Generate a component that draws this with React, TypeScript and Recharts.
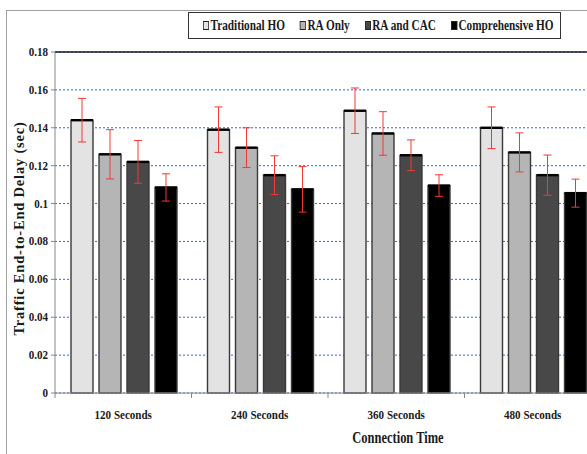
import { BarChart, Bar, XAxis, YAxis, CartesianGrid, ErrorBar, ReferenceLine, Label } from 'recharts';

// connection time groups
const categories = ['120 Seconds', '240 Seconds', '360 Seconds', '480 Seconds'];

// mean end-to-end delay (sec) per scheme
const traditional = [0.144, 0.139, 0.149, 0.14];
const raOnly = [0.126, 0.1295, 0.137, 0.127];
const raCac = [0.122, 0.115, 0.1255, 0.115];
const comprehensive = [0.1085, 0.1075, 0.1095, 0.1055];

// +/- spread drawn as error bars
const traditionalErr = [0.0115, 0.012, 0.012, 0.011];
const raOnlyErr = [0.013, 0.0105, 0.0115, 0.0103];
const raCacErr = [0.0113, 0.0102, 0.0081, 0.0106];
const comprehensiveErr = [0.0072, 0.012, 0.0057, 0.0074];

const yTicks = [0, 0.02, 0.04, 0.06, 0.08, 0.1, 0.12, 0.14, 0.16, 0.18];

const series = [
  { key: 'traditional', name: 'Traditional HO', color: '#e3e3e3' },
  { key: 'raOnly', name: 'RA Only', color: '#b5b5b5' },
  { key: 'raCac', name: 'RA and CAC', color: '#484848' },
  { key: 'comprehensive', name: 'Comprehensive HO', color: '#000000' },
];

const data = categories.map((category, i) => ({
  category,
  traditional: traditional[i],
  traditionalErr: traditionalErr[i],
  raOnly: raOnly[i],
  raOnlyErr: raOnlyErr[i],
  raCac: raCac[i],
  raCacErr: raCacErr[i],
  comprehensive: comprehensive[i],
  comprehensiveErr: comprehensiveErr[i],
}));

const SERIF = '"Liberation Serif", "Times New Roman", serif';

// bar with a dark outline and a heavier top edge
function OutlinedBar(props: any) {
  const { x, y, width, height, fill } = props;
  if (!height) return null;
  return (
    <g>
      <rect x={x} y={y} width={width} height={height} fill={fill} stroke="#3a3a3a" strokeWidth={1.4} />
      <line x1={x} x2={x + width} y1={y} y2={y} stroke="#000" strokeWidth={2.4} />
    </g>
  );
}

function YTick({ x, y, payload }: any) {
  return (
    <text
      transform={`translate(${x},${y}) scale(0.85,1)`}
      textAnchor="end"
      dy={4}
      fontFamily={SERIF}
      fontWeight="bold"
      fontSize={13}
      fill="#1a1a1a"
    >
      {payload.value}
    </text>
  );
}

// category label centred in the band, tick mark on the band's left edge
function XTick({ x, y, payload }: any) {
  const half = payload.offset || 68;
  return (
    <g>
      <line x1={x - half} x2={x - half} y1={y} y2={y + 5} stroke="#888" />
      <text
        transform={`translate(${x},${y + 26}) scale(0.85,1)`}
        textAnchor="middle"
        fontFamily={SERIF}
        fontWeight="bold"
        fontSize={13}
        fill="#1a1a1a"
      >
        {payload.value}
      </text>
    </g>
  );
}

function YTitle({ viewBox }: any) {
  const cx = viewBox.x + 24;
  const cy = viewBox.y + viewBox.height / 2 + 6;
  return (
    <text
      transform={`translate(${cx},${cy}) rotate(-90)`}
      textAnchor="middle"
      fontFamily={SERIF}
      fontWeight="bold"
      fontSize={14.5}
      letterSpacing={0.8}
      fill="#1a1a1a"
    >
      Traffic End-to-End Delay  (sec)
    </text>
  );
}

function XTitle({ viewBox }: any) {
  const cx = viewBox.x + viewBox.width / 2 + 70;
  const cy = viewBox.y + 50;
  return (
    <text
      transform={`translate(${cx},${cy}) scale(0.78,1)`}
      textAnchor="middle"
      fontFamily={SERIF}
      fontWeight="bold"
      fontSize={16}
      fill="#1a1a1a"
    >
      Connection Time
    </text>
  );
}

function LegendBox() {
  return (
    <div
      style={{
        position: 'absolute',
        left: 188,
        top: 12,
        width: 373,
        height: 27,
        boxSizing: 'border-box',
        border: '1px solid #333',
        background: '#fff',
      }}
    >
      <div
        style={{
          position: 'absolute',
          left: 14,
          top: 0,
          height: 25,
          display: 'flex',
          alignItems: 'center',
          whiteSpace: 'nowrap',
          transform: 'scaleX(0.75)',
          transformOrigin: 'left center',
          fontFamily: SERIF,
          fontWeight: 'bold',
          fontSize: 15,
          color: '#1a1a1a',
        }}
      >
        {series.map((s) => (
          <span key={s.key} style={{ display: 'flex', alignItems: 'center', marginRight: 20 }}>
            <span
              style={{
                display: 'inline-block',
                width: 6,
                height: 7,
                border: '1px solid #222',
                background: s.color,
                marginRight: 2,
              }}
            />
            {s.name}
          </span>
        ))}
      </div>
    </div>
  );
}

export default function App() {
  return (
    <div
      style={{
        position: 'absolute',
        left: 0,
        top: 0,
        width: 587,
        height: 454,
        overflow: 'hidden',
        background: '#fff',
      }}
    >
      <div
        style={{
          position: 'absolute',
          left: 6,
          top: 10,
          width: 620,
          height: 460,
          borderLeft: '1px solid #a0a0a0',
          borderTop: '1px solid #a0a0a0',
        }}
      />
      <div style={{ position: 'absolute', left: 0, top: 0 }}>
        <BarChart
          width={610}
          height={454}
          data={data}
          margin={{ top: 52, right: 9, bottom: 31, left: 0 }}
          barGap={6}
          barCategoryGap={16}
        >
          <CartesianGrid vertical={false} stroke="#2f6bd3" strokeDasharray="2 2" />
          <ReferenceLine y={0.18} stroke="#16162a" strokeWidth={1.5} />
          <XAxis
            dataKey="category"
            height={30}
            stroke="#888"
            tickLine={false}
            tickSize={0}
            tickMargin={0}
            tick={<XTick />}
            interval={0}
          >
            <Label content={<XTitle />} />
          </XAxis>
          <YAxis
            width={55}
            domain={[0, 0.18]}
            ticks={yTicks}
            stroke="#888"
            tickSize={4}
            tickMargin={3}
            tick={<YTick />}
            interval={0}
          >
            <Label content={<YTitle />} />
          </YAxis>
          {series.map((s) => (
            <Bar key={s.key} dataKey={s.key} name={s.name} fill={s.color} shape={<OutlinedBar />} isAnimationActive={false}>
              <ErrorBar dataKey={`${s.key}Err`} stroke="#f23838" strokeWidth={1} width={4} />
            </Bar>
          ))}
        </BarChart>
      </div>
      <LegendBox />
    </div>
  );
}
